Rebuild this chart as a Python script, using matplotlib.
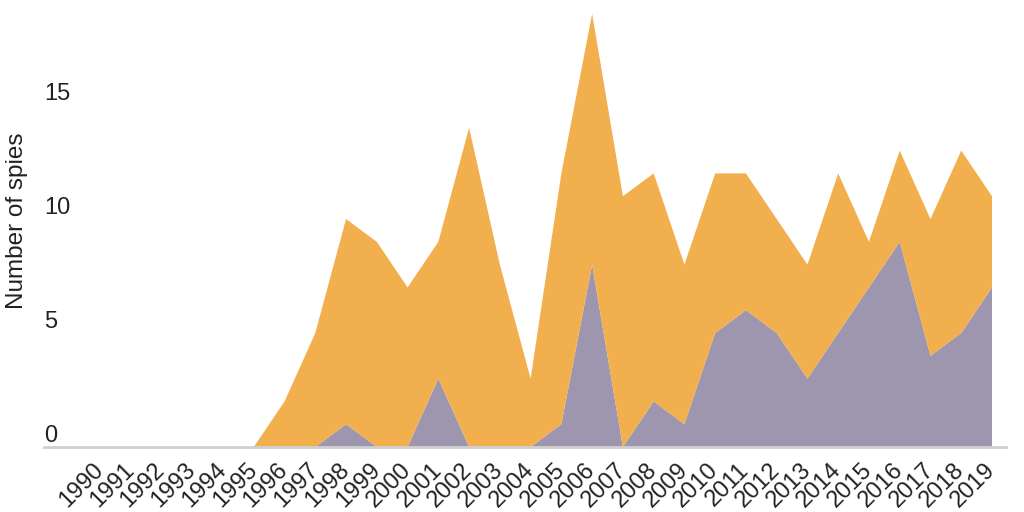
import matplotlib
matplotlib.use("Agg")
import matplotlib.pyplot as plt
import matplotlib.transforms as mtransforms

years = list(range(1990, 2020))
total_spies = [0, 0, 0, 0, 0, 0, 2, 5, 10, 9, 7, 9, 14, 8, 3, 12, 19, 11, 12, 8,
               12, 12, 10, 8, 12, 9, 13, 10, 13, 11]
group_purple = [0, 0, 0, 0, 0, 0, 0, 0, 1, 0, 0, 3, 0, 0, 0, 1, 8, 0, 2, 1,
                5, 6, 5, 3, 5, 7, 9, 4, 5, 7]
group_orange = [t - p for t, p in zip(total_spies, group_purple)]
y_ticks = [0, 5, 10, 15]
y_label = "Number of spies"

PURPLE = "#9d96ae"
ORANGE = "#f2af4e"
FONT = ["Liberation Sans", "DejaVu Sans"]
TXT = "#222222"

fig = plt.figure(figsize=(10.24, 5.12), dpi=100)
ax = fig.add_axes([44 / 1024, 65 / 512, 962 / 1024, 440 / 512])

ax.stackplot(years, group_purple, group_orange, colors=[PURPLE, ORANGE],
             linewidth=0, edgecolor="none")

ax.set_xlim(1990 - 56 / 30.76, 2019 + 14 / 30.76)
ax.set_ylim(0, 19.3)

for s in ["top", "right", "left"]:
    ax.spines[s].set_visible(False)
ax.spines["bottom"].set_color("#d0d0d0")
ax.spines["bottom"].set_linewidth(2)
ax.spines["bottom"].set_zorder(5)

ax.set_xticks(years)
ax.set_xticklabels([str(y) for y in years], rotation=45, ha="right", va="center",
                   rotation_mode="anchor", fontsize=17, family=FONT, color=TXT)
ax.tick_params(axis="x", length=0, pad=14)

ax.set_yticks([])
trans = mtransforms.blended_transform_factory(ax.transAxes, ax.transData) + \
    mtransforms.ScaledTranslation(0, 5 / 100, fig.dpi_scale_trans)
for t in y_ticks:
    ax.text(0, t, str(t), transform=trans, ha="left", va="baseline",
            fontsize=17, family=FONT, color=TXT)

fig.text(17 / 1024, 1 - 221 / 512, y_label, rotation=90, ha="center", va="center",
         fontsize=17.5, family=FONT, color=TXT)

fig.savefig("out.png", dpi=100)
